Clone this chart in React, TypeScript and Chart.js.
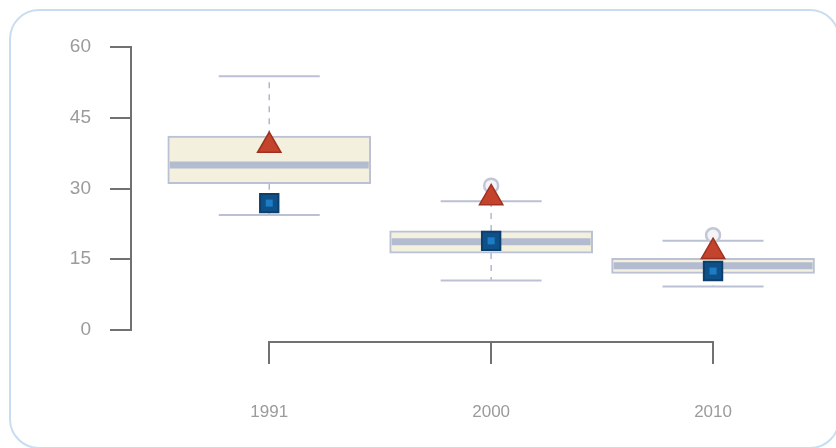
import React, { useEffect, useRef } from 'react';
import { Chart, registerables } from 'chart.js';

Chart.register(...registerables);

// ---- data ----
const categories = ['1991', '2000', '2010'];
const whiskerHigh = [53.8, 27.3, 18.9];
const upperQuartile = [41.1, 21.0, 15.2];
const medianValues = [35.0, 18.7, 13.6];
const lowerQuartile = [31.0, 16.3, 12.0];
const whiskerLow = [24.4, 10.5, 9.2];
const triangleValues = [39.1, 28.0, 16.6];
const squareValues = [26.9, 18.9, 12.5];
const outlierValues: (number | null)[] = [null, 30.6, 20.1];
const yTickValues = [0, 15, 30, 45, 60];

const AXIS_COLOR = '#717171';
const LABEL_COLOR = '#9b9b9b';
const BOX_LINE = '#bac1d4';

const bracketPlugin = {
  id: 'xBracket',
  afterDraw(chart: any) {
    const { ctx, chartArea, scales } = chart;
    const xs = scales.x;
    const y0 = chartArea.bottom + 12;
    const y1 = y0 + 22;
    const first = xs.getPixelForValue(0);
    const last = xs.getPixelForValue(categories.length - 1);
    ctx.save();
    ctx.strokeStyle = AXIS_COLOR;
    ctx.lineWidth = 2;
    ctx.beginPath();
    ctx.moveTo(first, y0);
    ctx.lineTo(last, y0);
    categories.forEach((_, i) => {
      const px = Math.round(xs.getPixelForValue(i));
      ctx.moveTo(px, y0 - 1);
      ctx.lineTo(px, y1);
    });
    ctx.stroke();
    ctx.restore();
  },
};

export default function App() {
  const ref = useRef<HTMLCanvasElement | null>(null);

  useEffect(() => {
    if (!ref.current) return;
    const stems: any[] = [];
    categories.forEach((_, i) => {
      stems.push({ x: i, y: upperQuartile[i] }, { x: i, y: whiskerHigh[i] }, { x: i, y: null });
      stems.push({ x: i, y: lowerQuartile[i] }, { x: i, y: whiskerLow[i] }, { x: i, y: null });
    });
    const caps: any[] = [];
    categories.forEach((_, i) => {
      caps.push({ x: i, y: whiskerHigh[i] }, { x: i, y: whiskerLow[i] });
    });
    const outliers = outlierValues
      .map((v, i) => (v == null ? null : { x: i, y: v }))
      .filter((p) => p !== null);

    const chart = new Chart(ref.current, {
      type: 'bar',
      data: {
        datasets: [
          {
            type: 'bar',
            data: categories.map((_, i) => ({ x: i, y: [lowerQuartile[i], upperQuartile[i]] })) as any,
            backgroundColor: '#f3f0de',
            borderColor: BOX_LINE,
            borderWidth: 2,
            borderSkipped: false,
            barThickness: 203,
            order: 7,
          } as any,
          {
            type: 'line',
            data: stems,
            borderColor: '#b0b8ce',
            borderWidth: 1.5,
            borderDash: [6, 6],
            pointRadius: 0,
            spanGaps: false,
            order: 6,
          },
          {
            type: 'scatter',
            data: categories.map((_, i) => ({ x: i, y: medianValues[i] })),
            pointStyle: 'line',
            pointRadius: 99.5,
            borderWidth: 7,
            borderColor: '#b3bbd0',
            order: 5,
          } as any,
          {
            type: 'scatter',
            data: caps,
            pointStyle: 'line',
            pointRadius: 50.5,
            borderWidth: 2,
            borderColor: BOX_LINE,
            order: 4,
          } as any,
          {
            type: 'scatter',
            data: outliers as any,
            pointStyle: 'circle',
            pointRadius: 7,
            borderWidth: 2.5,
            borderColor: '#c3c6d5',
            backgroundColor: '#f4f4f8',
            order: 3,
          } as any,
          {
            type: 'scatter',
            data: categories.map((_, i) => ({ x: i, y: triangleValues[i] })),
            pointStyle: 'triangle',
            pointRadius: 13.5,
            borderWidth: 1.5,
            borderColor: '#a0301f',
            backgroundColor: '#c4432c',
            order: 2,
          } as any,
          {
            type: 'scatter',
            data: categories.map((_, i) => ({ x: i, y: squareValues[i] })),
            pointStyle: 'rect',
            pointRadius: 13,
            borderWidth: 2,
            borderColor: '#0b3f6e',
            backgroundColor: '#0f5089',
            order: 1,
          } as any,
          {
            type: 'scatter',
            data: categories.map((_, i) => ({ x: i, y: squareValues[i] })),
            pointStyle: 'rect',
            pointRadius: 5,
            borderWidth: 0,
            backgroundColor: '#1c7cc4',
            order: 0,
          } as any,
        ],
      },
      options: {
        responsive: false,
        animation: false,
        devicePixelRatio: 1,
        layout: { autoPadding: false, padding: { top: 47, right: 12, left: 0, bottom: 0 } },
        plugins: { legend: { display: false }, tooltip: { enabled: false } },
        scales: {
          x: {
            type: 'linear',
            offset: false,
            min: -0.623,
            max: 2.5,
            grid: { display: false, drawTicks: false },
            border: { display: false },
            afterBuildTicks: (s: any) => {
              s.ticks = categories.map((_, i) => ({ value: i }));
            },
            afterFit: (s: any) => {
              s.height = 118;
            },
            ticks: {
              autoSkip: false,
              maxRotation: 0,
              padding: 72,
              color: LABEL_COLOR,
              font: { family: 'Liberation Sans, Arial, sans-serif', size: 17 },
              callback: (_v: any, i: number) => categories[i],
            },
          },
          y: {
            min: 0,
            max: 60,
            afterBuildTicks: (s: any) => {
              s.ticks = yTickValues.map((v) => ({ value: v }));
            },
            afterFit: (s: any) => {
              s.width = 131;
            },
            grid: {
              drawOnChartArea: false,
              drawTicks: true,
              tickLength: 21,
              color: AXIS_COLOR,
              lineWidth: 2,
            },
            border: { display: true, color: AXIS_COLOR, width: 2 },
            ticks: {
              padding: 19,
              color: LABEL_COLOR,
              font: { family: 'Liberation Sans, Arial, sans-serif', size: 19 },
            },
          },
        },
      },
      plugins: [bracketPlugin],
    });
    return () => chart.destroy();
  }, []);

  return (
    <div style={{ position: 'fixed', left: 0, top: 0, width: 836, height: 448, background: '#ffffff', overflow: 'hidden' }}>
      <div
        style={{
          position: 'absolute',
          left: 9,
          top: 9,
          width: 831,
          height: 440,
          border: '2px solid #c9ddf1',
          borderRadius: 30,
          boxSizing: 'border-box',
        }}
      />
      <canvas ref={ref} width={836} height={448} style={{ position: 'absolute', left: 0, top: 0, width: 836, height: 448 }} />
    </div>
  );
}
